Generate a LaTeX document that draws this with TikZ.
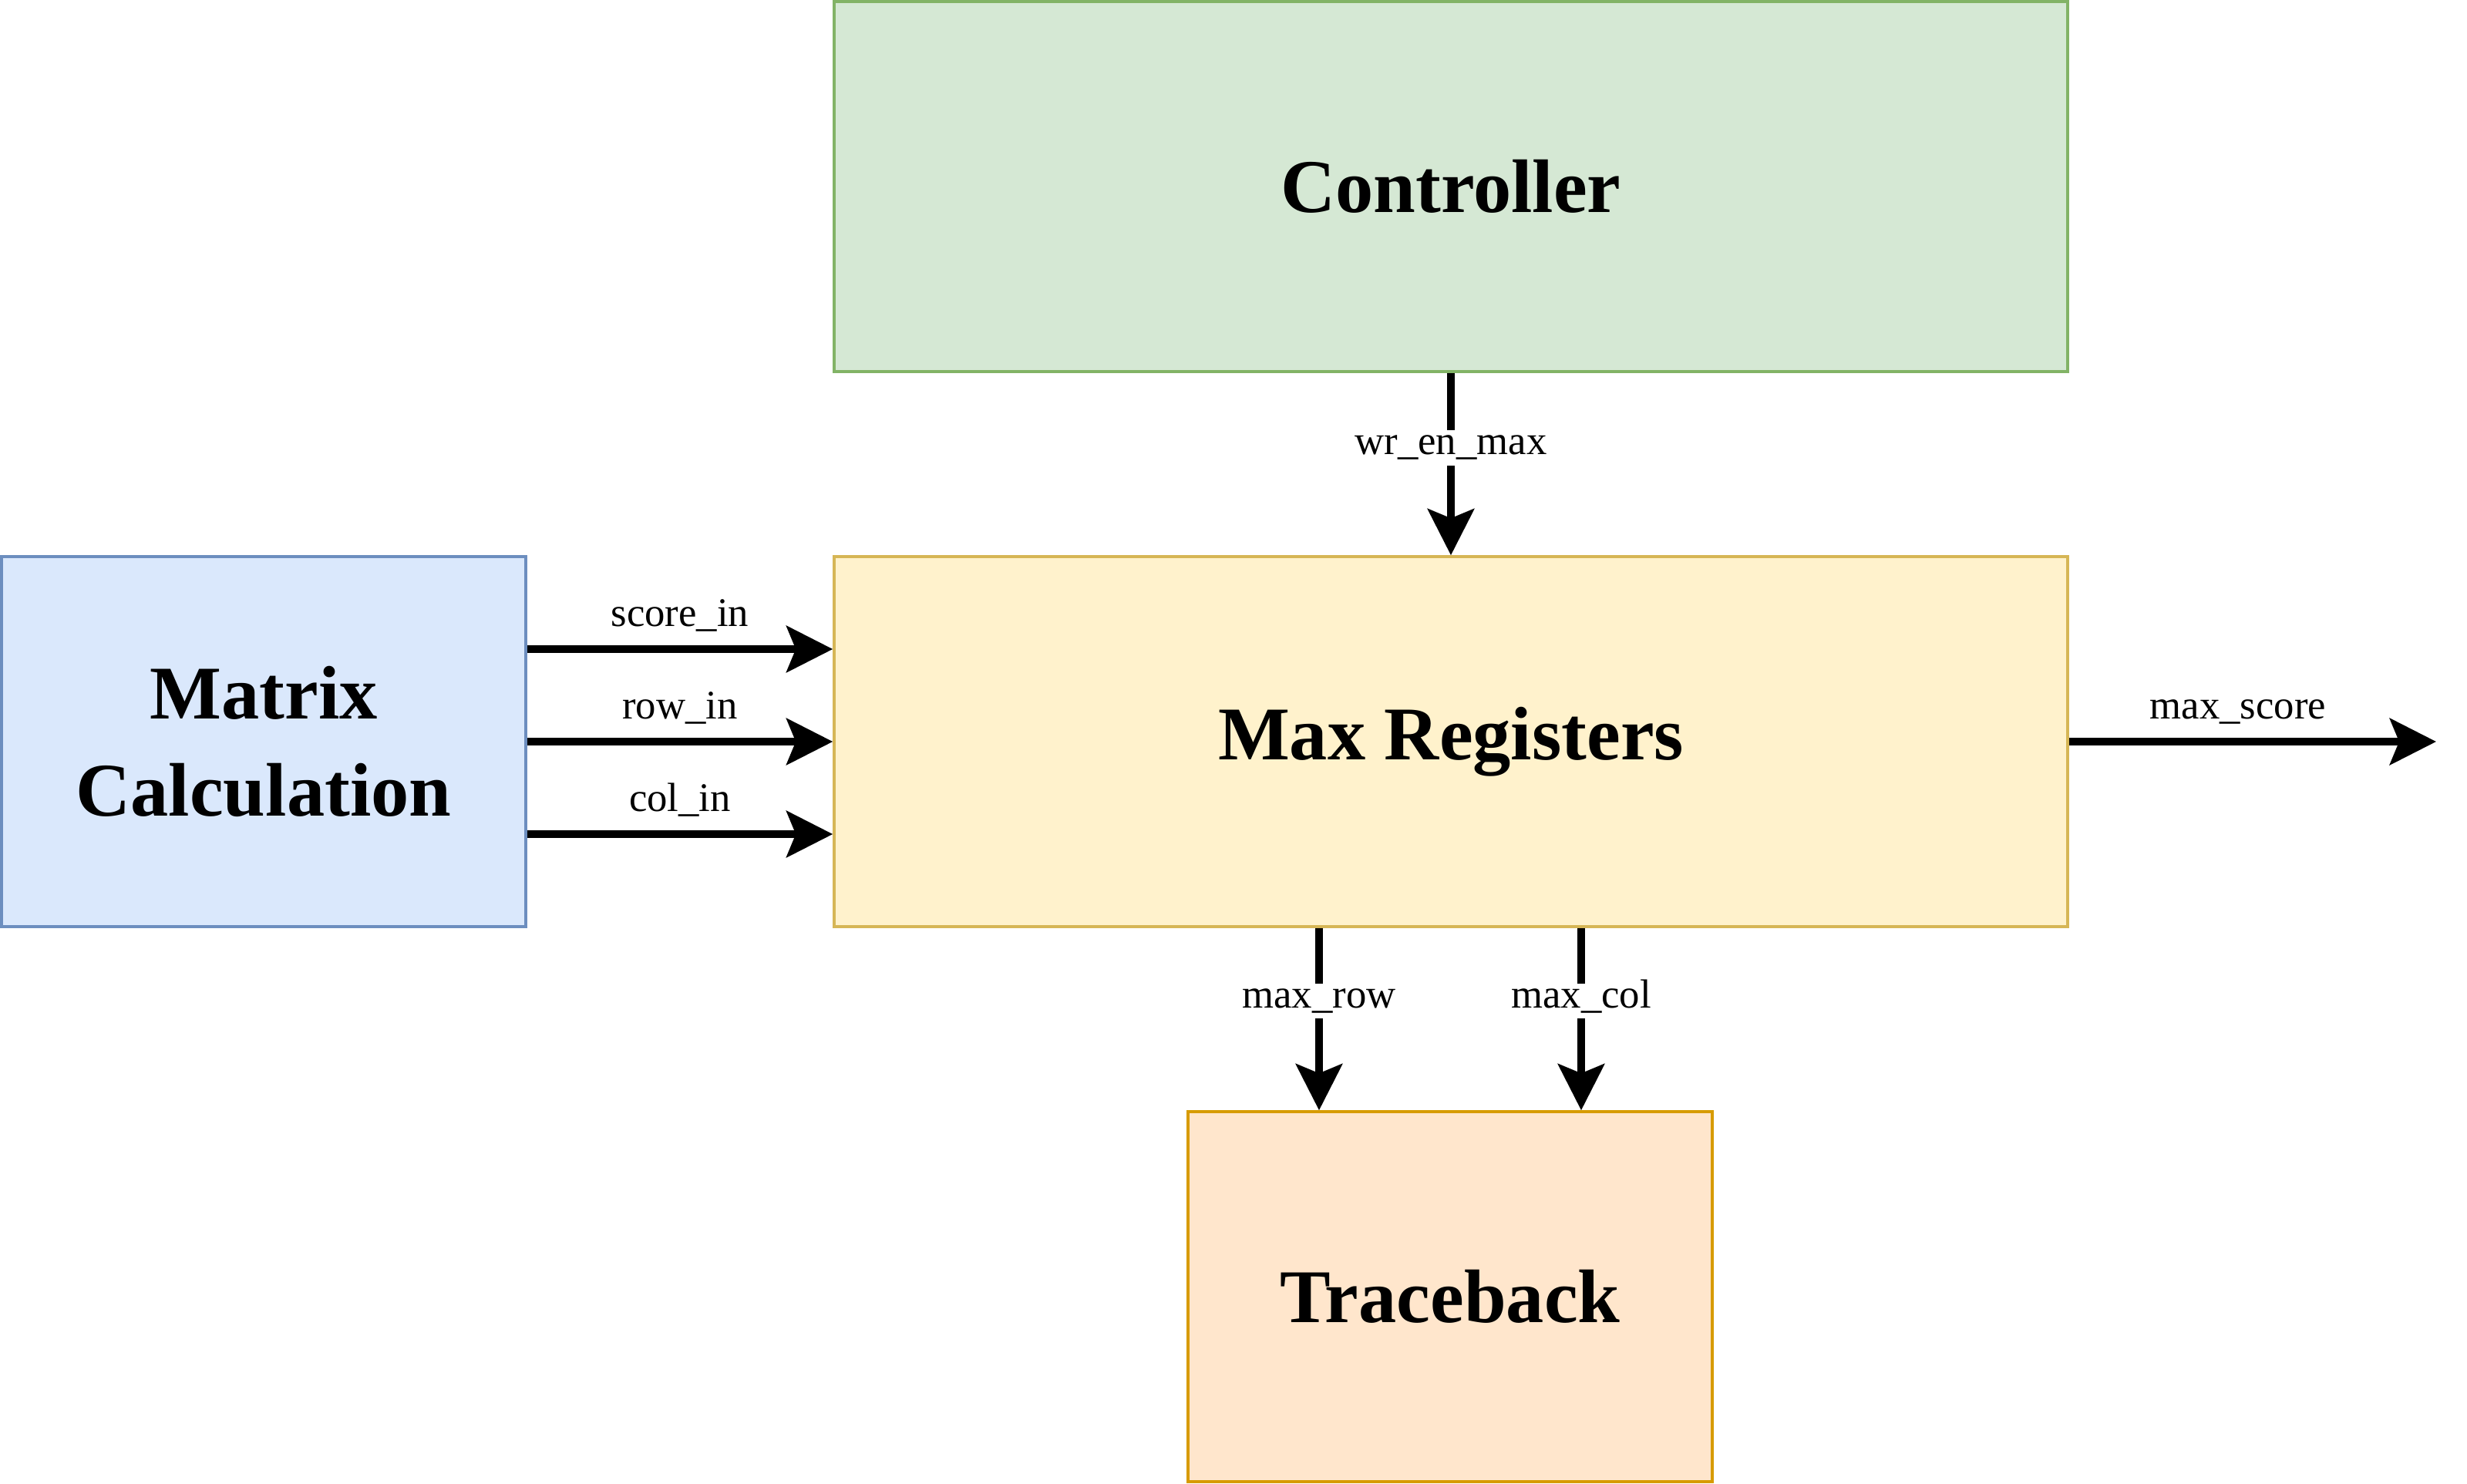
\documentclass[tikz,border=0pt]{standalone}
\usepackage{fontspec}
\setmainfont{Liberation Serif}
\usepackage{tikz}
\usetikzlibrary{arrows.meta,positioning,calc}
\usepackage{xcolor}
\definecolor{CtrlGreen}{HTML}{82B366}
\definecolor{RegGold}{HTML}{D6B656}
\definecolor{CalcBlue}{HTML}{6C8EBF}
\definecolor{TraceOrange}{HTML}{D79B00}
\definecolor{SoftGreen}{HTML}{D5E8D4}
\definecolor{SoftGold}{HTML}{FFF2CC}
\definecolor{SoftBlue}{HTML}{DAE8FC}
\definecolor{SoftOrange}{HTML}{FFE6CC}

\begin{document}
\begin{tikzpicture}[>={Stealth[length=6mm,width=6mm,inset=1.2mm]},
  block/.style={draw,line width=1pt,minimum height=4.8cm,font=\bfseries\fontsize{28}{36}\selectfont,align=center},
  wire/.style={->,line width=1mm},
  sig/.style={font=\fontsize{15}{18}\selectfont,inner sep=2pt,text height=0.7em,text depth=0.2em}]
\useasboundingbox (0,0) rectangle (32,-19.24);
\node[block,draw=CtrlGreen,fill=SoftGreen,minimum width=16cm] (ctrl) at (18.82,-2.42) {Controller};
\node[block,draw=RegGold,fill=SoftGold,minimum width=16cm] (maxreg) at (18.82,-9.62) {Max Registers};
\node[block,draw=CalcBlue,fill=SoftBlue,minimum width=6.8cm] (calc) at (3.42,-9.62) {Matrix\\Calculation};
\node[block,draw=TraceOrange,fill=SoftOrange,minimum width=6.8cm] (trace) at (18.81,-16.82) {Traceback};
\coordinate (out) at (31.6,-9.62);
% inputs from the matrix
\draw[wire] ([yshift=1.2cm]calc.east)--([yshift=1.2cm]maxreg.west) node[sig,midway,above=3pt] {score\_in};
\draw[wire] (calc.east)--(maxreg.west) node[sig,midway,above=3pt] {row\_in};
\draw[wire] ([yshift=-1.2cm]calc.east)--([yshift=-1.2cm]maxreg.west) node[sig,midway,above=3pt] {col\_in};
% control and outputs
\draw[wire] (ctrl)--(maxreg) node[sig,pos=0.41,fill=white] {wr\_en\_max};
\draw[wire] (maxreg.east)--(out) node[sig,pos=0.46,above=3pt] {max\_score};
\draw[wire] ([xshift=-1.71cm]maxreg.south)--([xshift=-1.71cm]maxreg.south |- trace.north) node[sig,pos=0.4,fill=white] {max\_row};
\draw[wire] ([xshift=1.69cm]maxreg.south)--([xshift=1.69cm]maxreg.south |- trace.north) node[sig,pos=0.4,fill=white] {max\_col};
\end{tikzpicture}
\end{document}
